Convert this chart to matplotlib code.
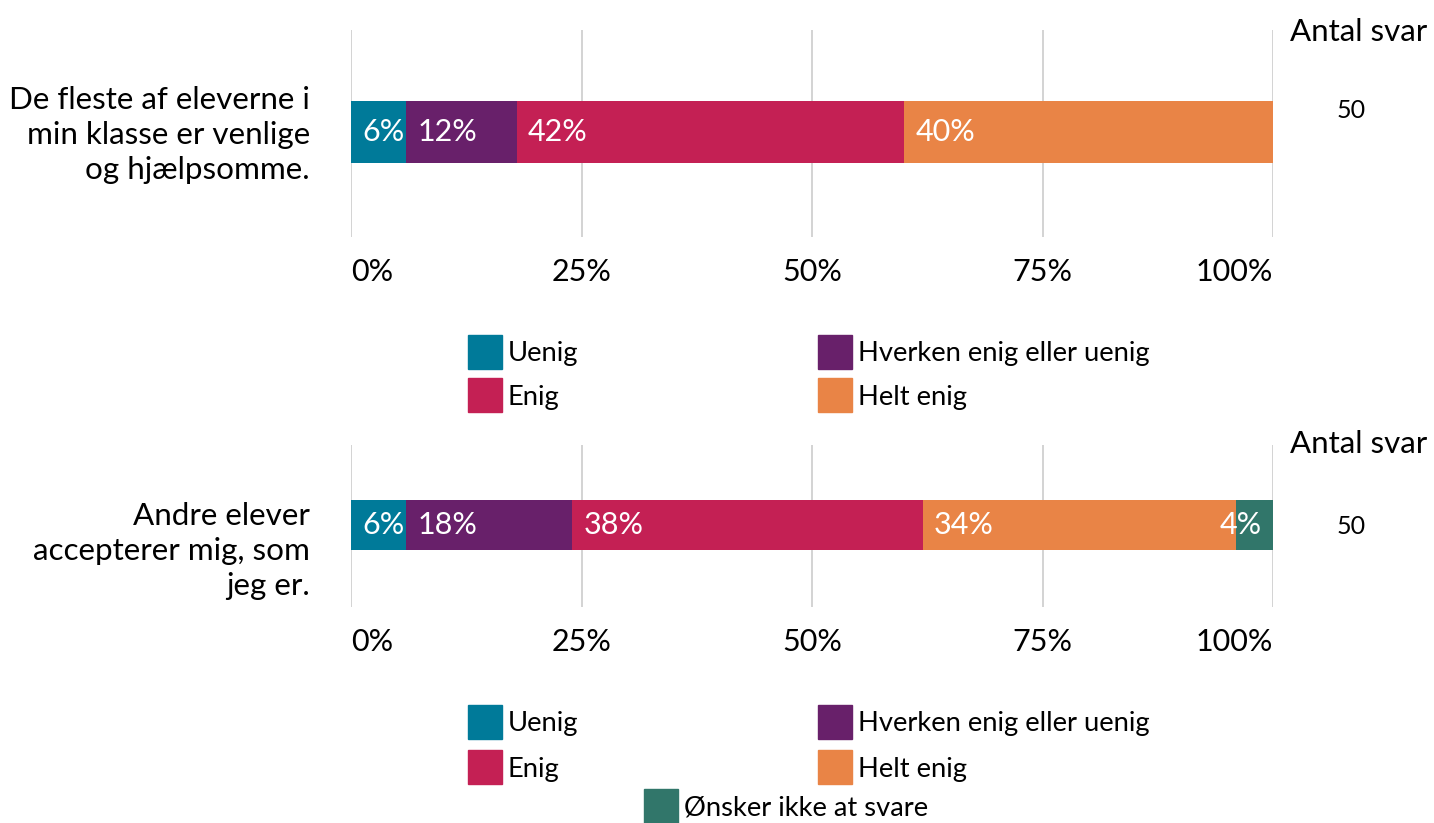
import matplotlib.pyplot as plt
from matplotlib.patches import Rectangle

plt.rcParams['font.family'] = ['Lato', 'DejaVu Sans']

W, H = 1434, 823

CATEGORIES = ["Uenig", "Hverken enig eller uenig", "Enig", "Helt enig", "Ønsker ikke at svare"]
COLORS = ["#007A99", "#68206A", "#C42054", "#E98446", "#31766A"]

QUESTIONS = ["De fleste af eleverne i\nmin klasse er venlige\nog hjælpsomme.",
             "Andre elever\naccepterer mig, som\njeg er."]
VALUES = [[6, 12, 42, 40],
          [6, 18, 38, 34, 4]]
N_ANSWERS = [50, 50]
XTICKS = [0, 25, 50, 75, 100]
XTICKLABELS = ["0%", "25%", "50%", "75%", "100%"]

# pixel layout (top-origin): axes top, axes bottom, bar top, bar bottom
PANELS = [dict(top=30, bottom=237, bar_top=101, bar_bot=163, lab_y=135, antal_y=32, n_y=111,
               legend_rows=[352, 395], last_row=None),
          dict(top=445, bottom=607, bar_top=500, bar_bot=550, lab_y=551, antal_y=444, n_y=526,
               legend_rows=[722, 767], last_row=806)]

X0, X1 = 351, 1273
FS = 22

fig = plt.figure(figsize=(W / 100, H / 100), dpi=100)


def fx(px):
    return px / W


def fy(py):
    return 1 - py / H


for q, vals, n, p in zip(QUESTIONS, VALUES, N_ANSWERS, PANELS):
    ax = fig.add_axes([fx(X0), fy(p["bottom"]), fx(X1 - X0), (p["bottom"] - p["top"]) / H])
    bar_h = p["bar_bot"] - p["bar_top"]
    centre = (p["bar_top"] + p["bar_bot"]) / 2
    ax.set_ylim(-(p["bottom"] - centre) / bar_h, (centre - p["top"]) / bar_h)
    ax.set_xlim(0, 100)
    left = 0
    for i, v in enumerate(vals):
        ax.barh(0, v, left=left, height=1, color=COLORS[i], zorder=2)
        if v < 5:
            ax.text(left + v - 1.2, 0, f"{v}%", ha="right", va="center", color="white",
                    fontsize=FS, zorder=3)
        else:
            ax.text(left + 1.2, 0, f"{v}%", ha="left", va="center", color="white",
                    fontsize=FS, zorder=3)
        left += v
    ax.set_xticks(XTICKS)
    ax.set_xticklabels(XTICKLABELS, fontsize=FS)
    tl = ax.get_xticklabels()
    tl[0].set_ha("left")
    tl[-1].set_ha("right")
    ax.tick_params(axis="x", length=0, pad=15)
    ax.set_yticks([])
    ax.grid(axis="x", color="#CCCCCC", linewidth=1.2, zorder=0)
    for s in ax.spines.values():
        s.set_visible(False)

    fig.text(fx(310), fy(p["lab_y"]), q, ha="right", va="center", fontsize=22.6,
             linespacing=1.3)
    fig.text(fx(1359), fy(p["antal_y"]), "Antal svar", ha="center", va="center", fontsize=22.5)
    fig.text(fx(1351), fy(p["n_y"]), str(n), ha="center", va="center", fontsize=18)

    # legend
    cols = [468, 818]
    for i in range(4):
        cx = cols[i % 2]
        cy = p["legend_rows"][i // 2]
        fig.patches.append(Rectangle((fx(cx), fy(cy + 17)), fx(34), 34 / H,
                                     transform=fig.transFigure, color=COLORS[i]))
        fig.text(fx(cx + 40), fy(cy + 2), CATEGORIES[i], ha="left", va="center", fontsize=19.7)
    if p["last_row"] is not None:
        cy = p["last_row"]
        fig.patches.append(Rectangle((fx(644), fy(cy + 17)), fx(34), 34 / H,
                                     transform=fig.transFigure, color=COLORS[4]))
        fig.text(fx(684), fy(cy + 2), CATEGORIES[4], ha="left", va="center", fontsize=19.7)

fig.savefig("out.png", dpi=100)
